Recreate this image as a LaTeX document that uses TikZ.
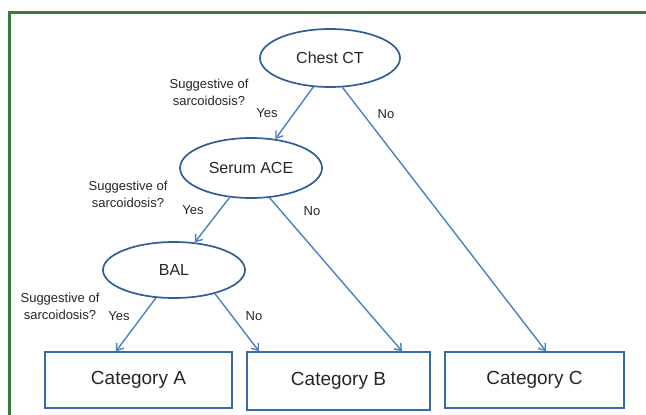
\documentclass[tikz,border=0pt]{standalone}
\usepackage{fontspec}
\setmainfont{Liberation Sans}
\usetikzlibrary{arrows.meta,shapes.geometric}
\definecolor{framegreen}{HTML}{3B7A3B}
\definecolor{ellblue}{HTML}{2F5F95}
\definecolor{arrblue}{HTML}{4A80C4}
\definecolor{boxblue}{HTML}{3A6AAE}
\definecolor{txt}{HTML}{262626}
\begin{document}
\begin{tikzpicture}[x=1pt,y=-1pt,
  ell/.style={draw=ellblue,line width=1.7pt,ellipse,minimum width=#1,minimum height=58pt,inner sep=0pt,font=\fontsize{16}{18}\selectfont,text=txt},
  cat/.style={draw=boxblue,line width=1.5pt,rectangle,minimum height=56pt,inner sep=0pt,font=\fontsize{19}{22}\selectfont,text=txt},
  arr/.style={draw=arrblue,line width=1.4pt,-{Straight Barb[length=6pt,width=9pt]}},
  lbl/.style={font=\fontsize{13}{17}\selectfont,text=txt,align=center,inner sep=0pt},
]
\useasboundingbox (0,0) rectangle (646,415);
\draw[framegreen,line width=3pt] (9,420) -- (9,12) -- (650,12);

\node[ell=140pt] (ct) at (330,58) {Chest CT};
\node[ell=142pt,minimum height=60pt] (ace) at (251,168) {Serum ACE};
\node[ell=142pt,minimum height=56pt] (bal) at (174,270) {BAL};

\node[cat,minimum width=187pt] (A) at (138.5,380) {Category A};
\node[cat,minimum width=183pt,minimum height=58pt] (B) at (338.5,381) {Category B};
\node[cat,minimum width=179pt] (C) at (534.5,380) {Category C};

\draw[arr] (ct.240) -- (ace.50);
\draw[arr] (ct.293) -- ([xshift=11.5pt]C.north);
\draw[arr] (ace.234) -- (bal.53);
\draw[arr] (ace.302) -- ([xshift=63.5pt]B.north);
\draw[arr] (bal.237) -- ([xshift=-22.5pt]A.north);
\draw[arr] (bal.330) -- ([xshift=-79.5pt]B.north);

\node[lbl] (q1) at (209,92) {Suggestive of\\sarcoidosis?};
\node[lbl] (y1) at (267,113) {Yes};
\node[lbl] (n1) at (386,114) {No};
\node[lbl] (q2) at (128,194) {Suggestive of\\sarcoidosis?};
\node[lbl] (y2) at (193,210) {Yes};
\node[lbl] (n2) at (312,211) {No};
\node[lbl] (q3) at (60,306) {Suggestive of\\sarcoidosis?};
\node[lbl] (y3) at (119,316) {Yes};
\node[lbl] (n3) at (254,316) {No};
\end{tikzpicture}
\end{document}
